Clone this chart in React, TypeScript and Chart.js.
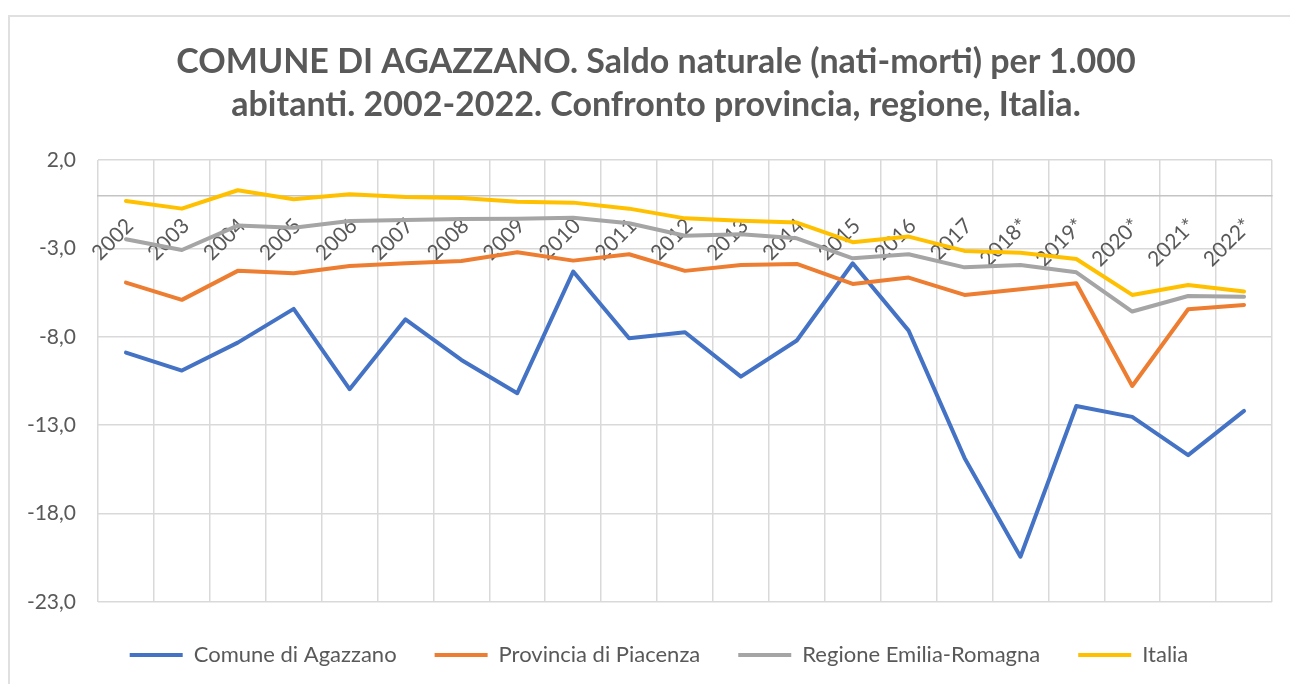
import React, { useEffect, useRef } from 'react';
import { Chart, registerables } from 'chart.js';

Chart.register(...registerables);

const categories = ['2002', '2003', '2004', '2005', '2006', '2007', '2008', '2009', '2010', '2011', '2012', '2013', '2014', '2015', '2016', '2017', '2018*', '2019*', '2020*', '2021*', '2022*'];
const comune = [-8.89, -9.91, -8.33, -6.42, -10.96, -7.01, -9.31, -11.19, -4.31, -8.08, -7.74, -10.25, -8.21, -3.84, -7.65, -14.85, -20.44, -11.91, -12.53, -14.69, -12.19];
const provincia = [-4.93, -5.91, -4.27, -4.41, -3.99, -3.84, -3.71, -3.22, -3.69, -3.33, -4.27, -3.94, -3.88, -5.01, -4.65, -5.63, -5.31, -4.97, -10.78, -6.44, -6.2];
const regione = [-2.48, -3.09, -1.71, -1.83, -1.45, -1.39, -1.34, -1.32, -1.26, -1.58, -2.28, -2.2, -2.43, -3.56, -3.33, -4.07, -3.94, -4.35, -6.57, -5.69, -5.73];
const italia = [-0.32, -0.75, 0.29, -0.22, 0.06, -0.09, -0.15, -0.36, -0.41, -0.75, -1.3, -1.43, -1.54, -2.65, -2.33, -3.14, -3.24, -3.6, -5.63, -5.07, -5.44];
const yTicks = [2, -3, -8, -13, -18, -23];
const seriesNames = ['Comune di Agazzano', 'Provincia di Piacenza', 'Regione Emilia-Romagna', 'Italia'];
const seriesColors = ['#4472C4', '#ED7D31', '#A5A5A5', '#FFC000'];
const titleLines = [
  'COMUNE DI AGAZZANO. Saldo naturale (nati-morti) per 1.000',
  'abitanti. 2002-2022. Confronto provincia, regione, Italia.',
];

const FONT = 'Lato, "Open Sans", sans-serif';
const TEXT = '#595959';
const GRID = '#d9d9d9';

const shiftBoxes = {
  id: 'shiftBoxes',
  afterLayout(chart: any) {
    const t = chart.titleBlock;
    if (t) {
      t.left += 10;
      t.right += 10;
    }
    const l = chart.legend;
    if (l) {
      l.left += 13;
      l.right += 13;
      l.top += 4;
      l.bottom += 4;
    }
  },
};

export default function App() {
  const ref = useRef<HTMLCanvasElement>(null);

  useEffect(() => {
    const values = [comune, provincia, regione, italia];
    const chart = new Chart(ref.current as HTMLCanvasElement, {
      type: 'line',
      data: {
        labels: categories,
        datasets: values.map((d, i) => ({
          label: seriesNames[i],
          data: d,
          borderColor: seriesColors[i],
          backgroundColor: seriesColors[i],
          borderWidth: 4,
          pointRadius: 0,
          pointHoverRadius: 0,
          tension: 0,
          borderJoinStyle: 'round' as const,
          borderCapStyle: 'round' as const,
          order: 3 - i,
          fill: false,
        })),
      },
      plugins: [shiftBoxes],
      options: {
        animation: false,
        responsive: false,
        maintainAspectRatio: false,
        layout: { padding: { left: 20, right: 18, top: 0, bottom: 12 } },
        plugins: {
          title: {
            display: true,
            text: titleLines,
            color: TEXT,
            font: { family: FONT, size: 34, weight: 'bold', lineHeight: 1.265 },
            padding: { top: 41, bottom: 33 },
          },
          legend: {
            display: true,
            position: 'bottom',
            labels: {
              usePointStyle: true,
              pointStyle: 'line',
              pointStyleWidth: 53,
              color: TEXT,
              font: { family: FONT, size: 22 },
              padding: 38,
              sort: (a: any, b: any) => a.datasetIndex - b.datasetIndex,
            },
          },
          tooltip: { enabled: false },
        },
        scales: {
          x: {
            type: 'category',
            position: { y: 0 } as any,
            offset: true,
            grid: { offset: true, color: GRID, lineWidth: 1.5, drawTicks: false },
            border: { display: true, color: '#c4c4c4', width: 1.5 },
            ticks: {
              color: TEXT,
              font: { family: FONT, size: 21 },
              minRotation: 45,
              maxRotation: 45,
              autoSkip: false,
              padding: 18,
              labelOffset: 4,
            },
          },
          y: {
            type: 'linear',
            position: 'left',
            min: -23,
            max: 2,
            afterBuildTicks: (scale: any) => {
              scale.ticks = yTicks.map((v) => ({ value: v }));
            },
            afterFit: (scale: any) => {
              scale.width = 78;
            },
            grid: { color: GRID, lineWidth: 1.5, drawTicks: false },
            border: { display: false },
            ticks: {
              color: TEXT,
              font: { family: FONT, size: 21 },
              padding: 22,
              callback: (v: any) => Number(v).toFixed(1).replace('.', ','),
            },
          },
        },
      },
    } as any);
    return () => chart.destroy();
  }, []);

  return (
    <div style={{ position: 'fixed', left: 0, top: 0, width: 1290, height: 684, overflow: 'hidden', background: '#fff' }}>
      <div
        style={{
          position: 'absolute',
          left: 8,
          top: 15,
          width: 1400,
          height: 800,
          border: '2px solid #e0e0e0',
          boxSizing: 'border-box',
        }}
      />
      <canvas ref={ref} width={1290} height={684} style={{ position: 'absolute', left: 0, top: 0 }} />
    </div>
  );
}
